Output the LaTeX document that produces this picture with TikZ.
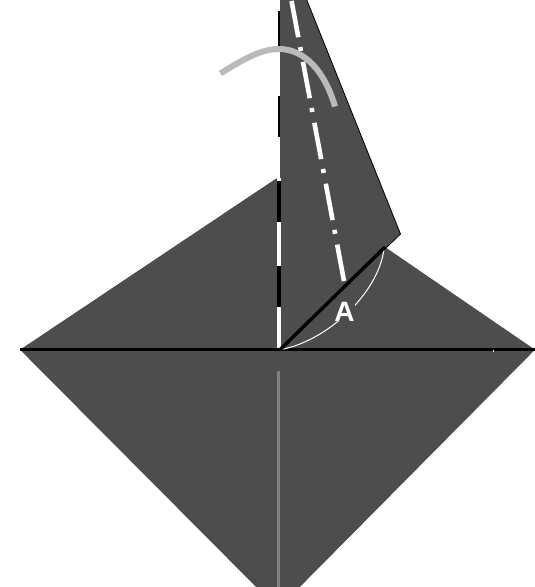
\documentclass[tikz,border=0pt]{standalone}
\usepackage{fontspec}
\setmainfont{Liberation Sans}
\definecolor{paper}{HTML}{4D4D4D}
\begin{document}
\begin{tikzpicture}[
        x=1pt, y=-1pt,
        sheet/.style={fill=paper, draw=none},
        crease/.style={draw=black, line width=3.4pt},
        valley/.style={draw=black, dash pattern=on 41pt off 44pt},
        chain/.style={draw=white, line width=4.6pt, dash pattern=on 37pt off 11pt on 4pt off 10pt},
        hidden/.style={draw=gray, line width=2.7pt},
        turn/.style={draw=black!27, line width=6pt},
        angle/.style={draw=white, line width=1pt}
    ]

    \useasboundingbox (0, 0) rectangle (535, 587);
    \clip (0, 0) rectangle (535, 587);

    \coordinate (left)   at (20, 349.7);
    \coordinate (right)  at (535, 349.7);
    \coordinate (centre) at (280, 349.7);
    \coordinate (bottom) at (278, 609);
    \coordinate (peak)   at (277, 178);
    \coordinate (notch)  at (385, 247);
    \coordinate (tip)    at (400.5, 234);

    \fill[sheet] (left) -- (right) -- (bottom) -- cycle;
    \fill[sheet] (left) -- (peak) -- (277, 349) -- cycle;
    \fill[sheet] (centre) -- (notch) -- (right) -- cycle;
    \fill[paper] (280, -2) -- (306, -2) -- (tip) -- (centre) -- cycle;
    \draw[black, line width=0.8pt] (306, -2) -- (tip) -- (centre);

    \draw[white, line width=4pt] (279, 349) -- (279, 178);
    \draw[valley, line width=4pt] (279, 307) -- (279, 178);
    \draw[valley, line width=2.2pt] (279.3, 137) -- (279.3, -2);

    \coordinate (chainend) at (344, 281);
    \coordinate (chaintop) at (291, -2);
    \draw[chain] (chainend) -- (chaintop);

    \draw[hidden] (278.7, 371) -- (278.7, 590);
    \draw[crease] (left) -- (right);
    \fill[white] (492.5, 350) rectangle (494, 352);

    \draw[angle] (centre) .. controls (325, 342) and (378, 295) .. (384, 249);
    \node[fill=paper, text=white, font=\fontsize{28}{28}\selectfont\bfseries, inner sep=0pt] (lblA) at (344.5, 311.5) {A};
    \draw[crease] (centre) -- (notch);

    \draw[turn] (220.5, 73.5) .. controls (245, 58) and (262, 49) .. (279, 49)
        .. controls (305, 49) and (325, 72) .. (335, 106.5);

    \end{tikzpicture}
\end{document}
